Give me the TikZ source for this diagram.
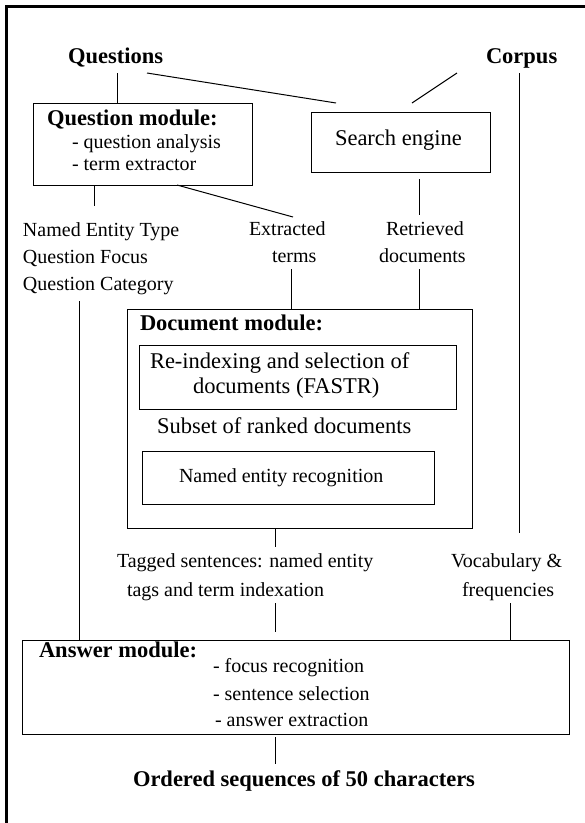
\documentclass[tikz,border=0pt]{standalone}
\usepackage{fontspec}
\setmainfont{Liberation Serif}
\begin{document}
\begin{tikzpicture}[x=1pt,y=-1pt,
  box/.style={draw,line width=1pt,inner sep=0pt,outer sep=0pt},
  txt/.style={anchor=base west,inner sep=0pt,outer sep=0pt,font=\fontsize{20}{24}\selectfont},
  big/.style={txt,font=\fontsize{22.5}{27}\selectfont},
  bigb/.style={txt,font=\fontsize{22.5}{27}\selectfont\bfseries},
  conn/.style={line width=1pt},
  frame/.style={line width=2.6pt}]
\useasboundingbox (0,0) rectangle (585,823);
% outer frame (left and top edges only)
\coordinate (fbl) at (6.3,823);
\coordinate (ftl) at (6.3,6.3);
\coordinate (ftr) at (585,6.3);
\draw[frame] (fbl) -- (ftl) -- (ftr);

% boxes
\node[box,minimum width=219pt,minimum height=82pt] (qmod) at (142.5,144) {};
\node[box,minimum width=179pt,minimum height=60pt] (seng) at (400.5,142) {};
\node[box,minimum width=345pt,minimum height=219pt] (docmod) at (299.5,419) {};
\node[box,minimum width=317pt,minimum height=64pt] (reidx) at (297.5,377) {};
\node[box,minimum width=292pt,minimum height=53pt] (ner) at (288,477.5) {};
\node[box,minimum width=547pt,minimum height=94pt] (ans) at (295.5,687) {};

% texts
\node[bigb] (questions) at (68,63) {Questions};
\node[bigb] (corpus) at (486,63) {Corpus};
\node[bigb] (qmodt) at (47,125) {Question module:};
\node[txt] (qa) at (72,148) {- question analysis};
\node[txt] (te) at (72,170) {- term extractor};
\node[big] (sengt) at (335,145) {Search engine};
\node[txt] (net) at (23,236) {Named Entity Type};
\node[txt] (qf) at (23,263) {Question Focus};
\node[txt] (qc) at (23,290) {Question Category};
\node[txt] (extr) at (249,235) {Extracted};
\node[txt] (terms) at (272,262) {terms};
\node[txt] (retr) at (386,235) {Retrieved};
\node[txt] (rdocs) at (379,262) {documents};
\node[bigb] (docmodt) at (140,330) {Document module:};
\node[big] (re1) at (150,368) {Re-indexing and selection of};
\node[big] (re2) at (193,393) {documents (FASTR)};
\node[big] (subset) at (157,433) {Subset of ranked documents};
\node[txt] (nert) at (179,482) {Named entity recognition};
\node[txt] (tag1) at (117,567) {Tagged sentences: named entity};
\node[txt] (tag2) at (127,596) {tags and term indexation};
\node[txt] (voc1) at (451,567) {Vocabulary \&};
\node[txt] (voc2) at (462,596) {frequencies};
\node[bigb] (anst) at (39,657) {Answer module:};
\node[txt] (a1) at (213,672) {- focus recognition};
\node[txt] (a2) at (213,700) {- sentence selection};
\node[txt] (a3) at (215,726) {- answer extraction};
\node[bigb] (ordered) at (133,786) {Ordered sequences of 50 characters};

% connector end points
\coordinate (c1) at (117,73);
\coordinate (c2a) at (147,73);
\coordinate (c2b) at (336,103);
\coordinate (c3a) at (457,73);
\coordinate (c3b) at (412,103);
\coordinate (c4a) at (519,73);
\coordinate (c4b) at (519,533);
\coordinate (c5) at (94,206);
\coordinate (c6a) at (177,185);
\coordinate (c6b) at (293,217);
\coordinate (c7a) at (419,179);
\coordinate (c7b) at (419,215);
\coordinate (c8) at (291,269);
\coordinate (c9) at (419,269);
\coordinate (c10) at (79,301);
\coordinate (c11) at (275,547);
\coordinate (c12a) at (275,603);
\coordinate (c12b) at (275,632);
\coordinate (c13) at (510,603);
\coordinate (c14a) at (275,737);
\coordinate (c14b) at (275,764);

% connectors
\draw[conn] (c1) -- (c1 |- qmod.north);
\draw[conn] (c2a) -- (c2b);
\draw[conn] (c3a) -- (c3b);
\draw[conn] (c4a) -- (c4b);
\draw[conn] (c5 |- qmod.south) -- (c5);
\draw[conn] (c6a) -- (c6b);
\draw[conn] (c7a) -- (c7b);
\draw[conn] (c8) -- (c8 |- docmod.north);
\draw[conn] (c9) -- (c9 |- docmod.north);
\draw[conn] (c10) -- (c10 |- ans.north);
\draw[conn] (c11 |- docmod.south) -- (c11);
\draw[conn] (c12a) -- (c12b);
\draw[conn] (c13) -- (c13 |- ans.north);
\draw[conn] (c14a) -- (c14b);
\end{tikzpicture}
\end{document}
